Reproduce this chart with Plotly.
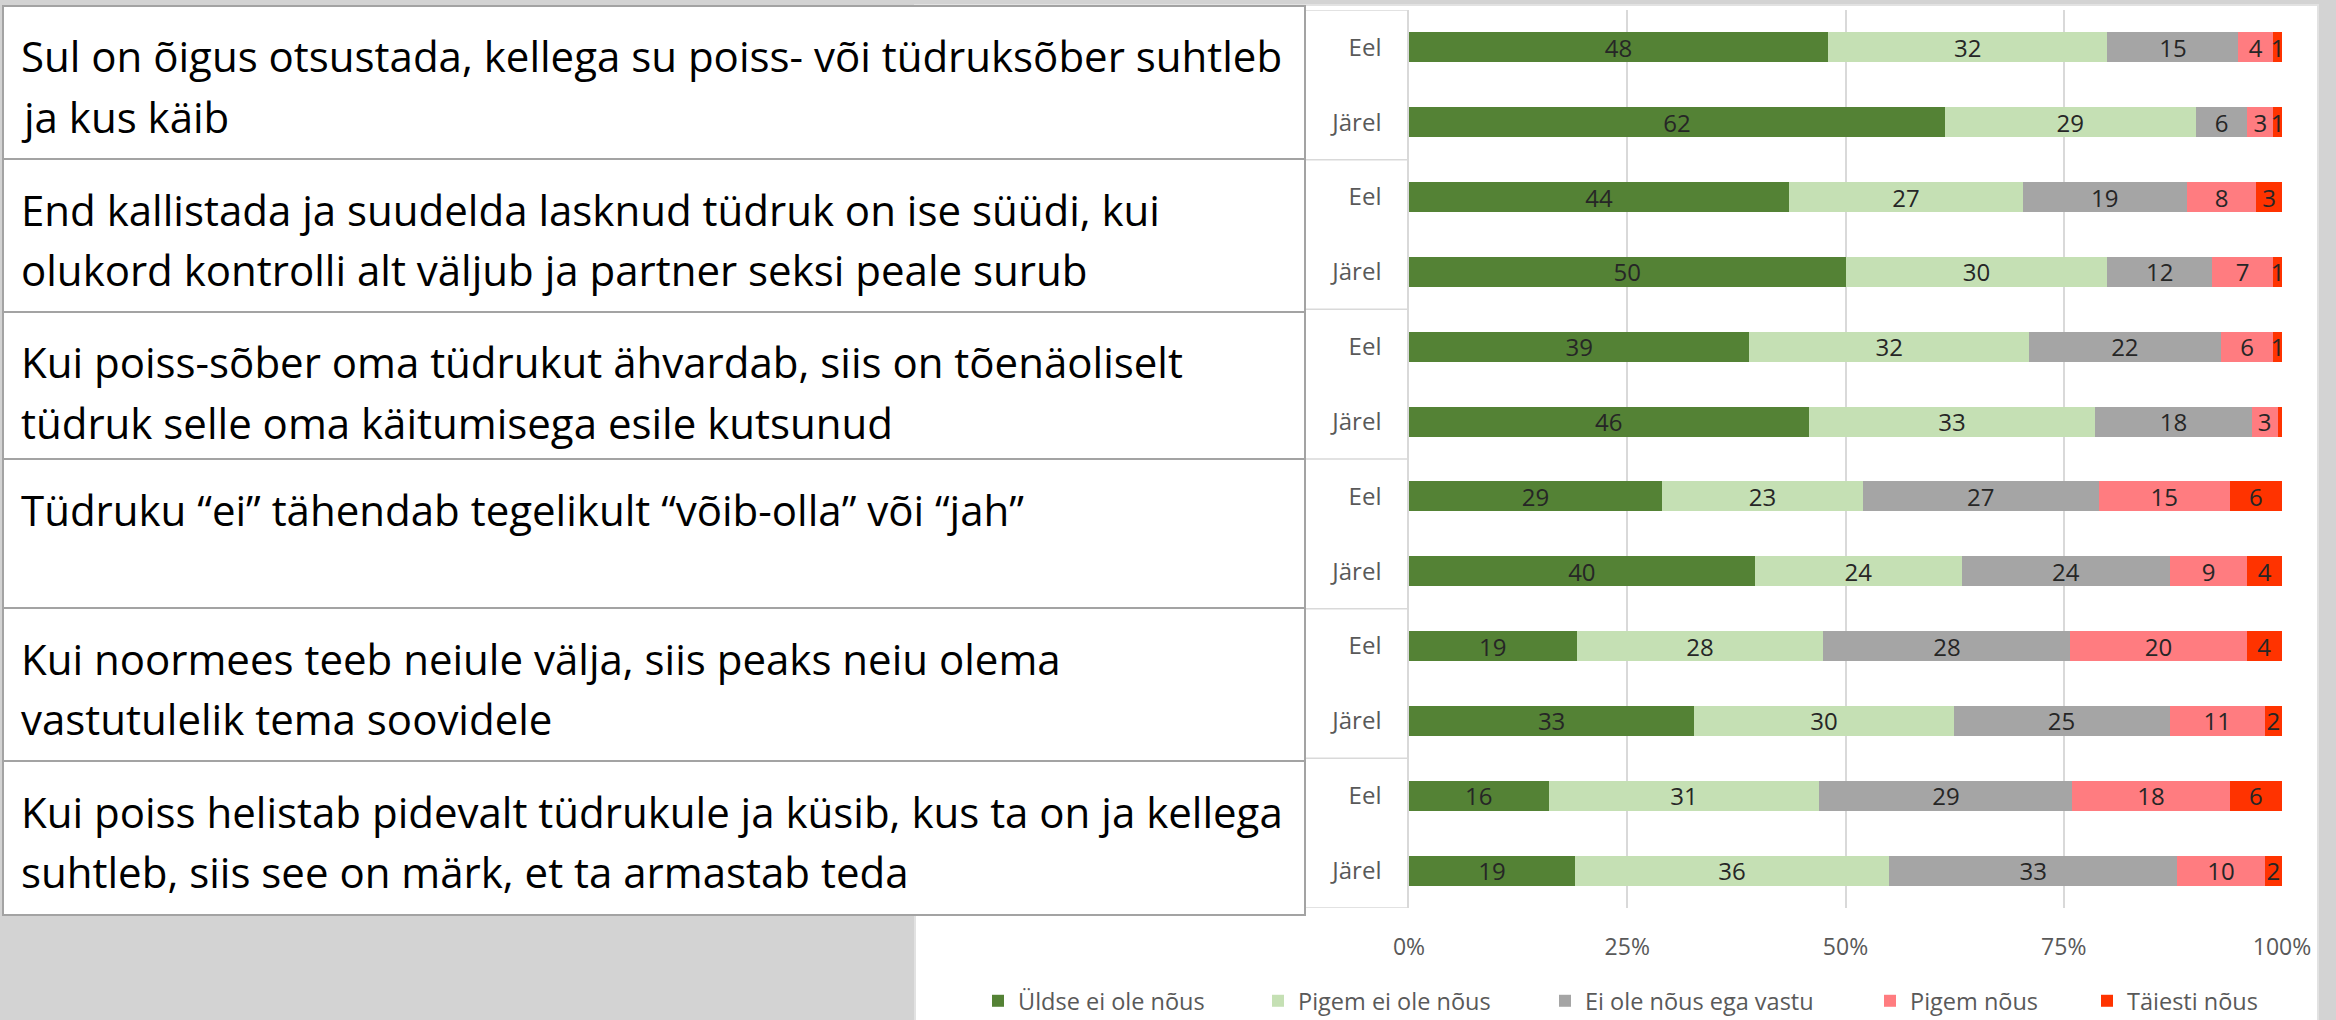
import plotly.graph_objects as go

# ---------------- data ----------------
statements = [
    ["Sul on õigus otsustada, kellega su poiss- või tüdruksõber suhtleb", "ja kus käib"],
    ["End kallistada ja suudelda lasknud tüdruk on ise süüdi, kui", "olukord kontrolli alt väljub ja partner seksi peale surub"],
    ["Kui poiss-sõber oma tüdrukut ähvardab, siis on tõenäoliselt", "tüdruk selle oma käitumisega esile kutsunud"],
    ["Tüdruku “ei” tähendab tegelikult “võib-olla” või “jah”"],
    ["Kui noormees teeb neiule välja, siis peaks neiu olema", "vastutulelik tema soovidele"],
    ["Kui poiss helistab pidevalt tüdrukule ja küsib, kus ta on ja kellega", "suhtleb, siis see on märk, et ta armastab teda"],
]
periods = ["Eel", "Järel"]
series_names = ["Üldse ei ole nõus", "Pigem ei ole nõus", "Ei ole nõus ega vastu", "Pigem nõus", "Täiesti nõus"]

uldse_ei = [48, 62, 44, 50, 39, 46, 29, 40, 19, 33, 16, 19]
pigem_ei = [32, 29, 27, 30, 32, 33, 23, 24, 28, 30, 31, 36]
neutraalne = [15, 6, 19, 12, 22, 18, 27, 24, 28, 25, 29, 33]
pigem_jah = [4, 3, 8, 7, 6, 3, 15, 9, 20, 11, 18, 10]
taiesti = [1, 1, 3, 1, 1, 0.5, 6, 4, 4, 2, 6, 2]

x_ticks = [0, 25, 50, 75, 100]
x_ticklabels = ["0%", "25%", "50%", "75%", "100%"]

# ---------------- style ----------------
colors = ["#548235", "#C5E0B4", "#A5A5A5", "#FF7C80", "#FF3300"]
FONT = "Open Sans"
W, H = 2336, 1020
ML, MR, MT, MB = 1409, 54, 10, 112
PW, PH = W - ML - MR, H - MT - MB


def px2x(px):
    return (px - ML) / PW


def py2y(py):
    return 1 - (py - MT) / PH


series = [uldse_ei, pigem_ei, neutraalne, pigem_jah, taiesti]
n_rows = len(statements) * len(periods)
ypos = list(range(n_rows))
yticktext = periods * len(statements)

fig = go.Figure()
legend_ids = ["legend", "legend2", "legend3", "legend4", "legend5"]
for name, vals, col, lid in zip(series_names, series, colors, legend_ids):
    labels = [f"{v:g}" if v >= 1 else "" for v in vals]
    fig.add_trace(go.Bar(
        name=name, x=vals, y=ypos, orientation="h",
        marker=dict(color=col, line=dict(width=0)),
        text=labels, textposition="inside", insidetextanchor="middle", textangle=0,
        textfont=dict(family=FONT, size=24, color="#262626"),
        legend=lid, hoverinfo="skip",
    ))

shapes = []
# white chart panel
shapes.append(dict(type="rect", xref="paper", yref="paper",
                   x0=px2x(915), x1=px2x(2318), y0=py2y(1030), y1=py2y(5),
                   fillcolor="white", line=dict(color="#e2e2e2", width=2), layer="below"))
# statement table
row_edges = [6, 159, 312, 459, 608, 761, 915]
for k in range(len(statements)):
    shapes.append(dict(type="rect", xref="paper", yref="paper",
                       x0=px2x(3), x1=px2x(1305), y0=py2y(row_edges[k + 1]), y1=py2y(row_edges[k]),
                       fillcolor="white", line=dict(color="#a3a3a3", width=2), layer="below"))
# category group separators in label column
for b in [i - 0.5 for i in range(0, n_rows + 1, 2)]:
    shapes.append(dict(type="line", xref="paper", yref="y",
                       x0=px2x(1306), x1=0, y0=b, y1=b,
                       line=dict(color="#d9d9d9", width=1.5), layer="above"))

annotations = []
for k, lines in enumerate(statements):
    for j, line in enumerate(lines):
        center = row_edges[k] + 50 + 60 * j
        annotations.append(dict(
            text=line, xref="paper", yref="paper",
            x=px2x(19), xanchor="left", y=py2y(center), yanchor="middle",
            showarrow=False, font=dict(family=FONT, size=42, color="#000000"),
        ))

legend_lefts = [978, 1258, 1545, 1870, 2087]
leg_layout = {}
for lid, L in zip(legend_ids, legend_lefts):
    leg_layout[lid] = dict(x=px2x(L), xanchor="left", y=py2y(1001), yanchor="middle",
                           orientation="h", bgcolor="rgba(0,0,0,0)", borderwidth=0,
                           font=dict(family=FONT, size=23.5, color="#595959"))

fig.update_layout(
    width=W, height=H,
    margin=dict(l=ML, r=MR, t=MT, b=MB, pad=0, autoexpand=False),
    paper_bgcolor="#d3d3d3", plot_bgcolor="white",
    barmode="stack", barnorm="percent", bargap=0.6,
    uniformtext=dict(minsize=24, mode="show"),
    showlegend=True,
    shapes=shapes, annotations=annotations,
    font=dict(family=FONT, color="#595959"),
    xaxis=dict(range=[0, 100], tickvals=x_ticks, ticktext=x_ticklabels,
               showgrid=True, gridcolor="#d9d9d9", gridwidth=1.5,
               zeroline=False, showline=False, ticks="", automargin=False,
               tickfont=dict(family=FONT, size=23, color="#595959"),
               ticklabelstandoff=23, fixedrange=True),
    yaxis=dict(range=[n_rows - 0.5, -0.5], tickvals=ypos, ticktext=yticktext,
               showgrid=False, zeroline=False, showline=True, automargin=False,
               linecolor="#d9d9d9", linewidth=1.5, ticks="",
               tickfont=dict(family=FONT, size=24, color="#595959"),
               ticklabelstandoff=21, fixedrange=True),
    **leg_layout,
)

fig.write_html("out.html", config={"displayModeBar": False},
               post_script="document.body.style.margin='0px';document.body.style.overflow='hidden';")
